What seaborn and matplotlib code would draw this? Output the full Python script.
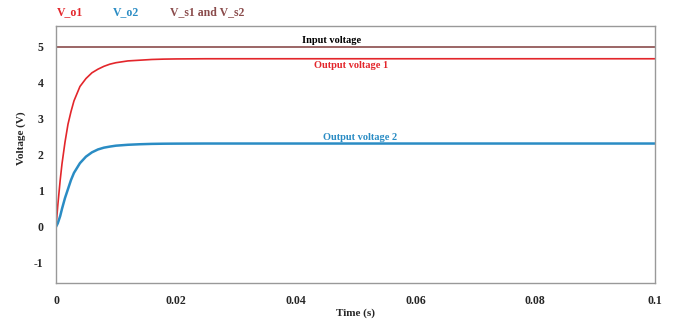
import numpy as np
import matplotlib
matplotlib.use("Agg")
import matplotlib.pyplot as plt
import pandas as pd
import seaborn as sb

# values
t = [0, 0.0003, 0.0007, 0.001, 0.0015, 0.002, 0.0025, 0.003, 0.004, 0.005,
     0.006, 0.007, 0.008, 0.009, 0.010, 0.012, 0.014, 0.016, 0.018, 0.02,
     0.025, 0.03, 0.05, 0.1]
v_o1 = [0, 0.6, 1.3, 1.75, 2.35, 2.85, 3.2, 3.5, 3.9, 4.12,
        4.28, 4.38, 4.46, 4.52, 4.56, 4.61, 4.63, 4.65, 4.66, 4.665,
        4.67, 4.67, 4.67, 4.67]
v_o2 = [0, 0.1, 0.3, 0.5, 0.8, 1.05, 1.3, 1.5, 1.77, 1.95,
        2.07, 2.15, 2.2, 2.23, 2.255, 2.28, 2.295, 2.305, 2.31, 2.312,
        2.315, 2.315, 2.315, 2.315]
v_s = [5.0] * len(t)

xticks = [0, 0.02, 0.04, 0.06, 0.08, 0.1]
xticklabels = ['0', '0.02', '0.04', '0.06', '0.08', '0.1']
yticks = [-1, 0, 1, 2, 3, 4, 5]

red = '#e3262b'
blue = '#2a8cc4'
brown = '#8a4b4b'

sb.set_style('white')
plt.rcParams['font.family'] = ['Liberation Serif', 'DejaVu Serif']
plt.rcParams['font.weight'] = 'bold'
plt.rcParams['axes.unicode_minus'] = False

df = pd.DataFrame({'t': t, 'vo1': v_o1, 'vo2': v_o2, 'vs': v_s})

fig = plt.figure(figsize=(6.76, 3.24), dpi=100)
ax = fig.add_axes([56/676, 1 - 283/324, 599/676, 257/324])

sb.lineplot(data=df, x='t', y='vs', color=brown, linewidth=1.2, ax=ax)
sb.lineplot(data=df, x='t', y='vo1', color=red, linewidth=1.2, ax=ax)
sb.lineplot(data=df, x='t', y='vo2', color=blue, linewidth=1.8, ax=ax)

ax.set_xlim(0, 0.1)
ax.set_ylim(-1.56, 5.58)
ax.set_xticks(xticks)
ax.set_xticklabels(xticklabels)
ax.set_yticks(yticks)
ax.tick_params(length=0, labelsize=8.5, pad=9)
for s in ax.spines.values():
    s.set_color('#999999')
    s.set_linewidth(1)

ax.set_xlabel('Time (s)', fontsize=8, fontweight='bold', labelpad=1)
ax.set_ylabel('Voltage (V)', fontsize=8, fontweight='bold')
ax.yaxis.set_label_coords(-30/599, (283 - 138)/257)

ax.text(0.046, 5.05, 'Input voltage', color='black', fontsize=7.5,
        fontweight='bold', ha='center', va='bottom')
ax.text(0.0493, 4.47, 'Output voltage 1', color=red, fontsize=7.5,
        fontweight='bold', ha='center', va='center')
ax.text(0.0507, 2.47, 'Output voltage 2', color=blue, fontsize=7.5,
        fontweight='bold', ha='center', va='center')

fig.text(57/676, 1 - 12/324, 'V_o1', color=red, fontsize=8.5,
         fontweight='bold', va='center')
fig.text(113/676, 1 - 12/324, 'V_o2', color=blue, fontsize=8.5,
         fontweight='bold', va='center')
fig.text(170/676, 1 - 12/324, 'V_s1 and V_s2', color=brown, fontsize=8.5,
         fontweight='bold', va='center')

plt.savefig('out.png', dpi=100)
